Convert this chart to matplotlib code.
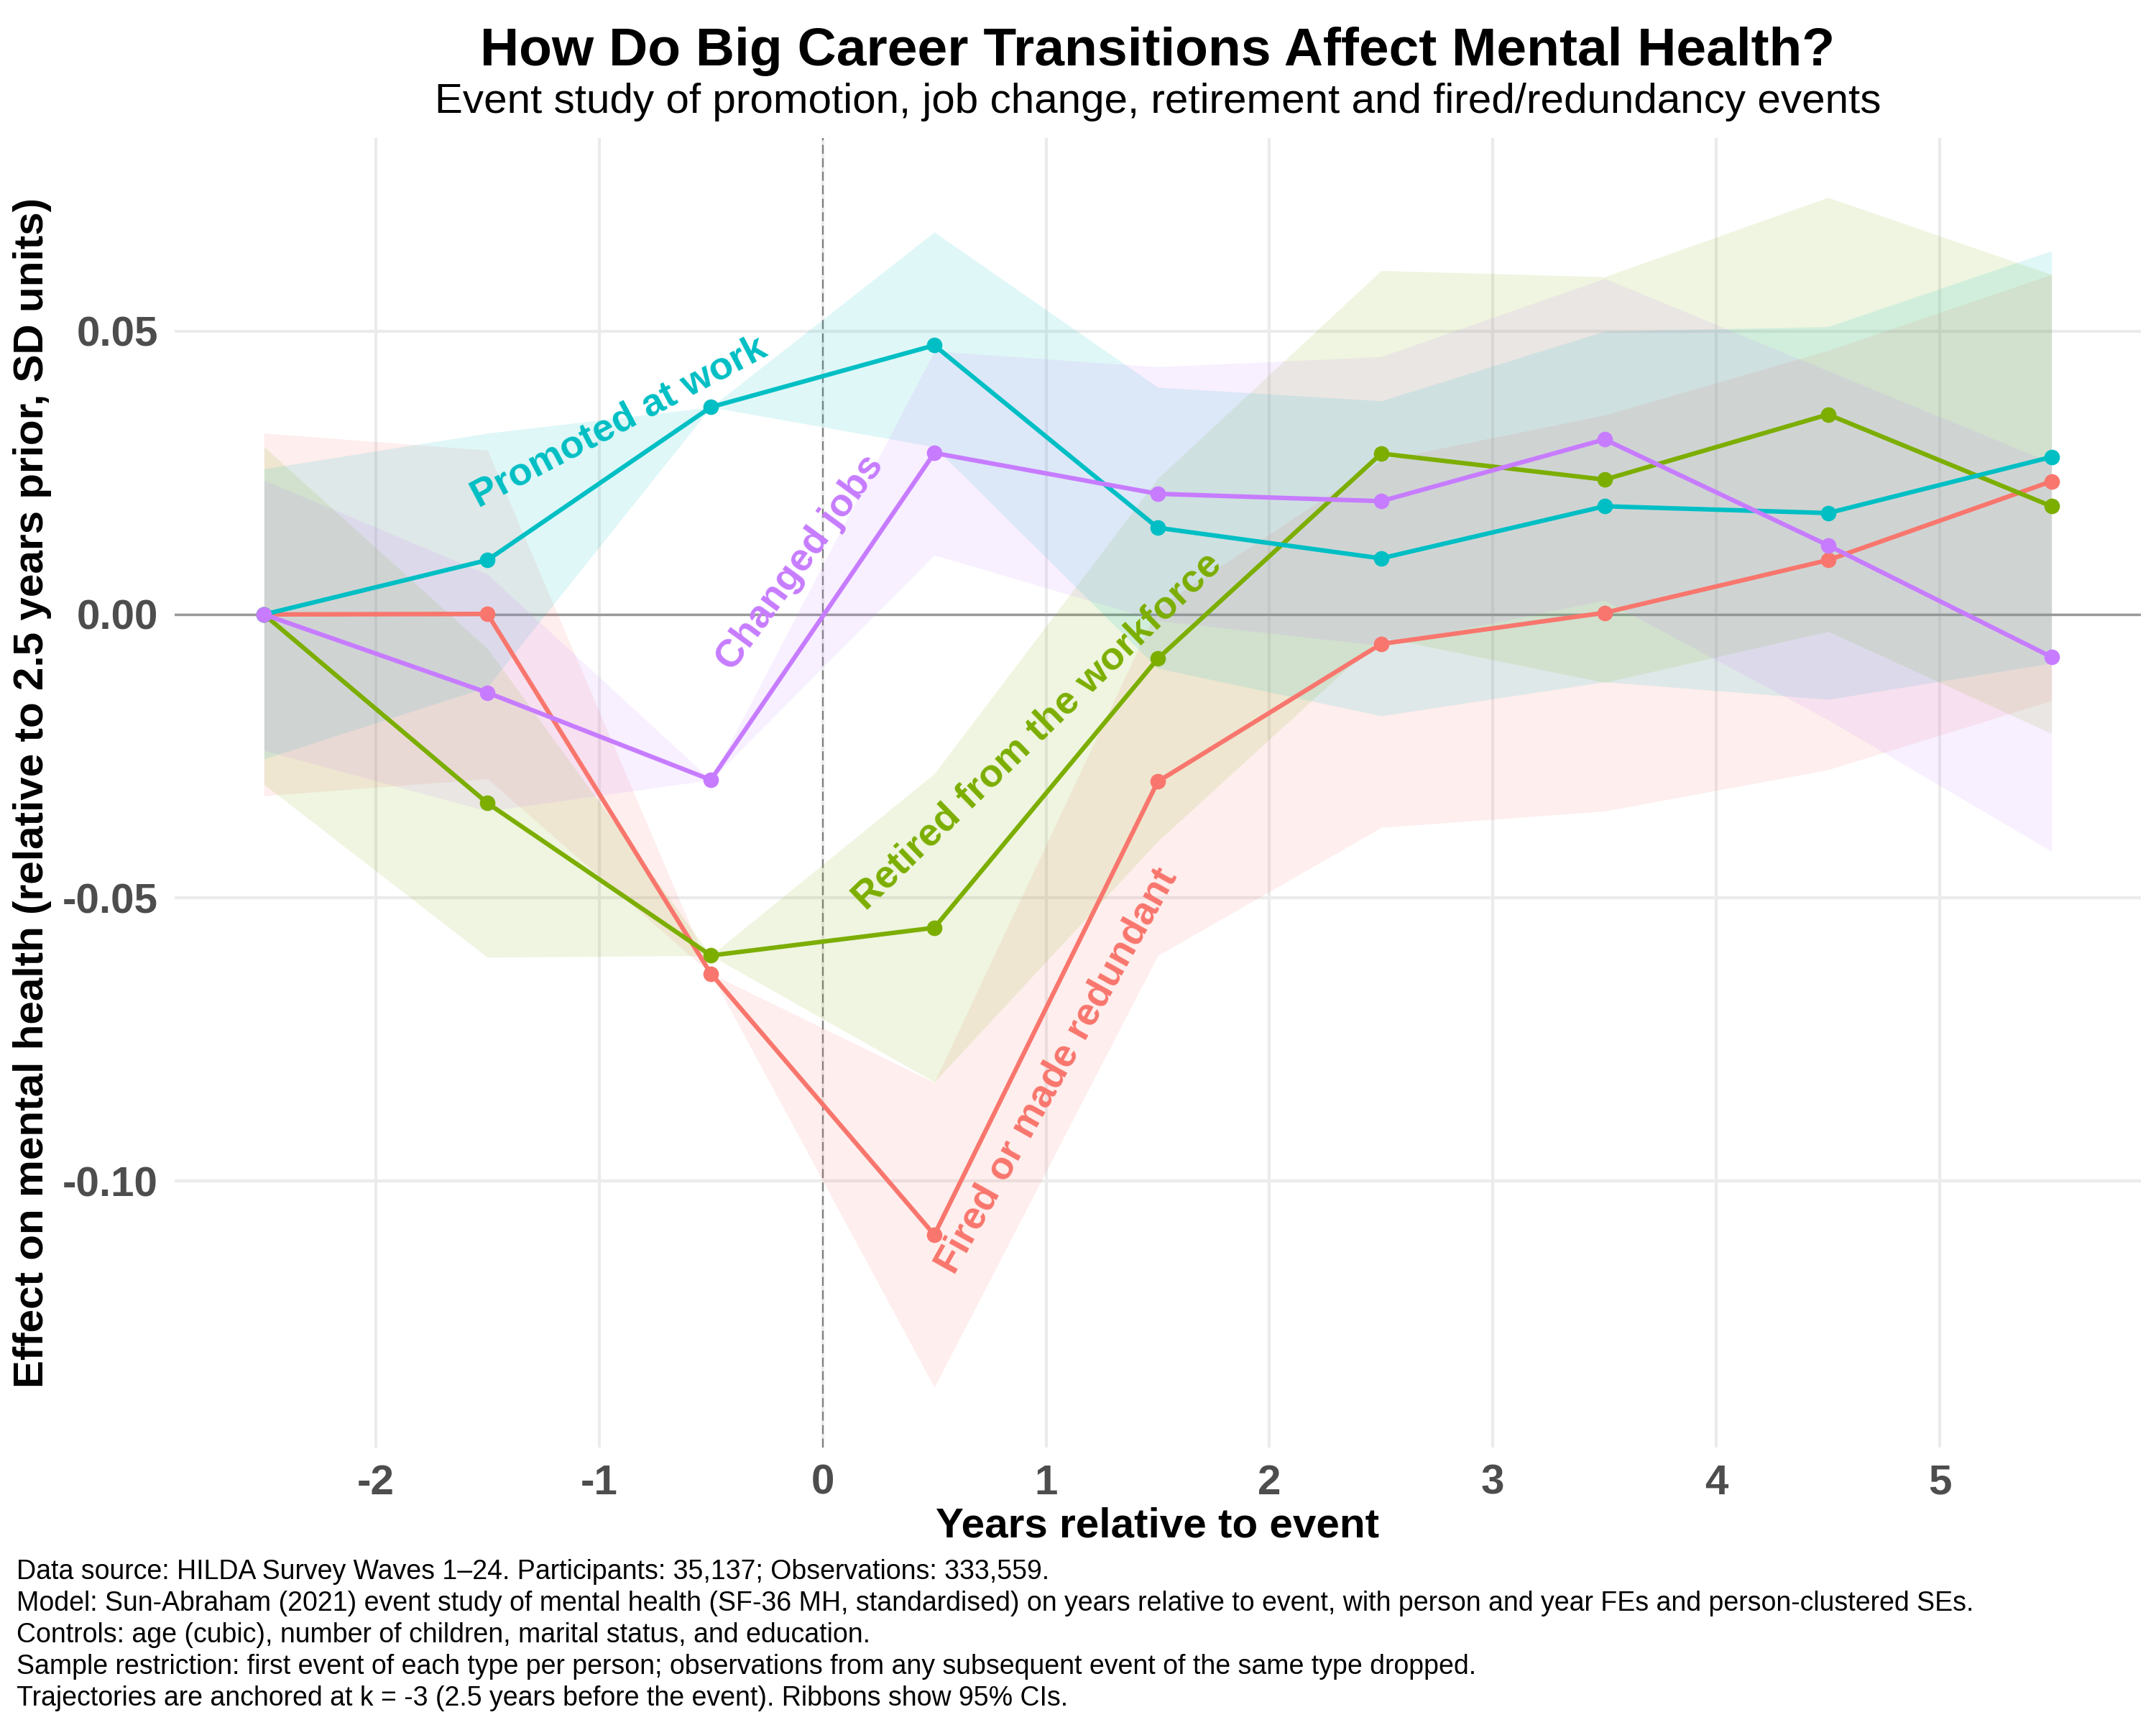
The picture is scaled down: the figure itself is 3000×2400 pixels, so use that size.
import matplotlib
matplotlib.use("Agg")
import matplotlib.pyplot as plt
import numpy as np

plt.rcParams['font.family'] = ['Liberation Sans', 'DejaVu Sans']
plt.rcParams['axes.unicode_minus'] = False

# years relative to event
years = [-2.5, -1.5, -0.5, 0.5, 1.5, 2.5, 3.5, 4.5, 5.5]

# estimates and 95% CI bounds
fired_est = [0.0, 0.0001, -0.0634, -0.1095, -0.0295, -0.0052, 0.0003, 0.0096, 0.0235]
fired_lo = [-0.032, -0.029, -0.0634, -0.1364, -0.0602, -0.0376, -0.0347, -0.0274, -0.0152]
fired_hi = [0.032, 0.029, -0.0634, -0.0826, 0.0012, 0.0272, 0.0352, 0.0466, 0.0600]

retired_est = [0.0, -0.0333, -0.0602, -0.0553, -0.0078, 0.0284, 0.0238, 0.0353, 0.0191]
retired_lo = [-0.030, -0.0605, -0.0602, -0.0825, -0.040, -0.004, -0.012, -0.003, -0.021]
retired_hi = [0.0296, -0.006, -0.0602, -0.0281, 0.024, 0.0607, 0.0596, 0.0736, 0.060]

promoted_est = [0.0, 0.0096, 0.0366, 0.0475, 0.0153, 0.0099, 0.0191, 0.0179, 0.0278]
promoted_lo = [-0.0255, -0.0128, 0.0366, 0.0296, -0.0095, -0.0179, -0.0119, -0.015, -0.0086]
promoted_hi = [0.0257, 0.032, 0.0366, 0.0675, 0.0401, 0.0377, 0.050, 0.0508, 0.0642]

changed_est = [0.0, -0.0138, -0.0292, 0.0285, 0.0213, 0.0200, 0.0309, 0.0122, -0.0075]
changed_lo = [-0.024, -0.0347, -0.0292, 0.0105, -0.0011, -0.0055, 0.0025, -0.0186, -0.0418]
changed_hi = [0.0237, 0.0071, -0.0292, 0.0465, 0.0437, 0.0455, 0.0593, 0.043, 0.0268]

labels = ["Fired or made redundant", "Retired from the workforce",
          "Promoted at work", "Changed jobs"]
colors = ["#F8766D", "#7CAE00", "#00BFC4", "#C77CFF"]

# label placement (x, y, angle)
label_pos = [(1.05, -0.0806, 60.8), (0.96, -0.0206, 44.0),
             (-0.91, 0.0339, 27.8), (-0.10, 0.0091, 53.8)]

series = [
    (fired_est, fired_lo, fired_hi),
    (retired_est, retired_lo, retired_hi),
    (promoted_est, promoted_lo, promoted_hi),
    (changed_est, changed_lo, changed_hi),
]

fig = plt.figure(figsize=(10, 8), dpi=300)
ax = fig.add_axes([0.081, 0.161, 0.912, 0.759])

ax.grid(True, color="#EBEBEB", lw=1.0, zorder=0)
ax.set_axisbelow(True)
for s in ax.spines.values():
    s.set_visible(False)

ax.axhline(0, color="#999999", lw=0.8, zorder=1)
ax.axvline(0, color="#7F7F7F", lw=0.5, ls=(0, (6, 3)), zorder=1)

for (est, lo, hi), c in zip(series, colors):
    ax.fill_between(years, lo, hi, color=c, alpha=0.12, lw=0, zorder=2)
for (est, lo, hi), c in zip(series, colors):
    ax.plot(years, est, color=c, lw=1.5, marker="o", ms=4.2, zorder=3)

for lab, c, (lx, ly, ang) in zip(labels, colors, label_pos):
    ax.text(lx, ly, lab, color=c, fontsize=13, fontweight="bold",
            rotation=ang, ha="center", va="center", rotation_mode="anchor",
            zorder=4)

ax.set_xlim(-2.9, 5.9)
ax.set_ylim(-0.147, 0.0841)
ax.set_xticks(np.arange(-2, 6))
ax.set_yticks([-0.10, -0.05, 0.0, 0.05])
ax.set_yticklabels(["-0.10", "-0.05", "0.00", "0.05"])
ax.tick_params(length=0, labelsize=14, labelcolor="#4D4D4D", pad=5.5)
for t in ax.get_xticklabels() + ax.get_yticklabels():
    t.set_fontweight("bold")

ax.set_xlabel("Years relative to event", fontsize=14, fontweight="bold")
ax.xaxis.label.set_va("center")
ax.xaxis.set_label_coords(0.5, -0.0604)
ax.set_ylabel("Effect on mental health (relative to 2.5 years prior, SD units)",
              fontsize=14, fontweight="bold")
ax.yaxis.label.set_va("center")
ax.yaxis.set_label_coords(-0.0724, 0.5)

xc = 0.081 + 0.912 / 2
fig.text(xc, 1 - 72 / 2400, "How Do Big Career Transitions Affect Mental Health?",
         ha="center", va="center", fontsize=18, fontweight="bold")
fig.text(xc, 1 - 142 / 2400,
         "Event study of promotion, job change, retirement and fired/redundancy events",
         ha="center", va="center", fontsize=14)

caption = [
    "Data source: HILDA Survey Waves 1\u201324. Participants: 35,137; Observations: 333,559.",
    "Model: Sun-Abraham (2021) event study of mental health (SF-36 MH, standardised) on years relative to event, with person and year FEs and person-clustered SEs.",
    "Controls: age (cubic), number of children, marital status, and education.",
    "Sample restriction: first event of each type per person; observations from any subsequent event of the same type dropped.",
    "Trajectories are anchored at k = -3 (2.5 years before the event). Ribbons show 95% CIs.",
]
for i, line in enumerate(caption):
    fig.text(23 / 3000, 1 - (2187 + 44 * i) / 2400, line, ha="left", va="center",
             fontsize=9.0)

fig.savefig("out.png", dpi=300)
